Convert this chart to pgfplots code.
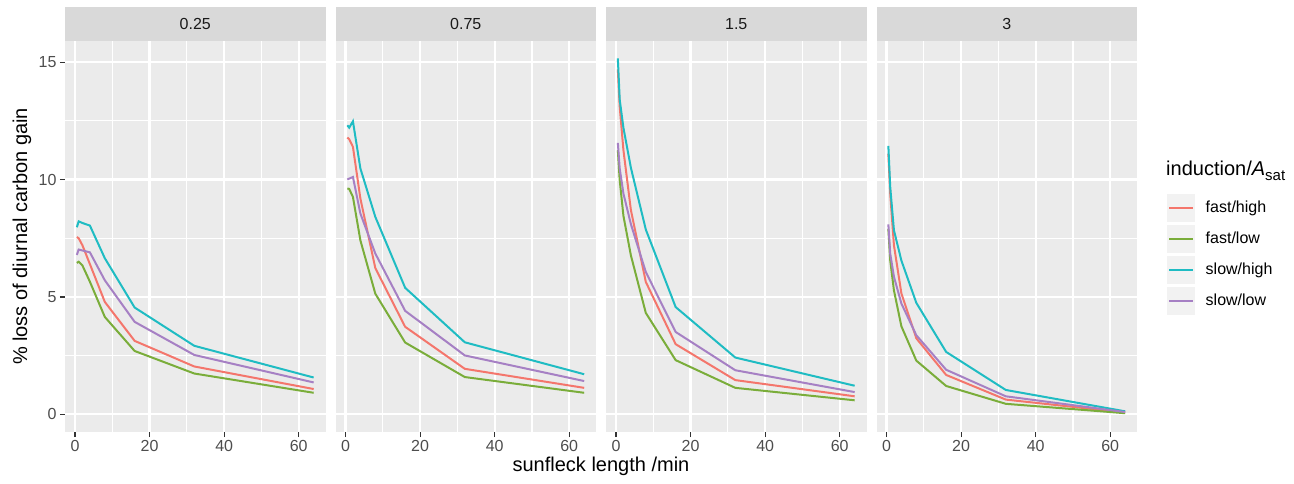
\documentclass[border=0pt]{standalone}
\usepackage{pgfplots}
\pgfplotsset{compat=1.18}
\usepackage{fontspec}
\setmainfont{Liberation Sans}
\definecolor{ggbg}{HTML}{EBEBEB}
\definecolor{stripc}{HTML}{D9D9D9}
\definecolor{keybg}{HTML}{F2F2F2}
\definecolor{tickc}{HTML}{333333}
\definecolor{labc}{HTML}{4D4D4D}
\definecolor{cred}{HTML}{F4766C}
\definecolor{cgreen}{HTML}{7AAD3A}
\definecolor{ccyan}{HTML}{1FBCC3}
\definecolor{cpurple}{HTML}{A680C4}

\pgfplotstableread{
x    fh     fl     sh     sl
0.5  7.55   6.45   7.97   6.79
1    7.50   6.50   8.22   7.02
2    7.20   6.34   8.15   6.98
4    6.40   5.65   8.04   6.90
8    4.79   4.15   6.65   5.71
16   3.13   2.70   4.55   3.94
32   2.04   1.74   2.92   2.53
64   1.08   0.92   1.57   1.36
}\tA
\pgfplotstableread{
x    fh     fl     sh     sl
0.5  11.79  9.62   12.31  10.00
1    11.72  9.60   12.21  10.04
2    11.39  9.26   12.48  10.11
4    9.19   7.41   10.47  8.55
8    6.23   5.14   8.41   6.85
16   3.73   3.06   5.39   4.41
32   1.94   1.59   3.07   2.51
64   1.13   0.92   1.71   1.42
}\tB
\pgfplotstableread{
x    fh     fl     sh     sl
0.5  14.69  11.25  15.16  11.56
1    13.10  9.97   13.40  10.47
2    11.25  8.45   12.20  9.40
4    8.70   6.77   10.50  8.10
8    5.64   4.32   7.87   6.06
16   2.99   2.31   4.57   3.51
32   1.46   1.13   2.42   1.88
64   0.77   0.60   1.22   0.95
}\tC
\pgfplotstableread{
x    fh     fl     sh     sl
0.5  11.10  7.90   11.43  8.09
1    9.40   6.56   9.69   6.85
2    7.20   5.28   7.84   5.86
4    5.15   3.75   6.55   4.72
8    3.24   2.29   4.75   3.37
16   1.68   1.21   2.66   1.90
32   0.63   0.45   1.04   0.77
64   0.08   0.05   0.13   0.10
}\tD

\pgfplotsset{
  ggpanel/.style={
    scale only axis, width=260.5pt, height=391pt, anchor=south west,
    xmin=-2.675, xmax=67.175, ymin=-0.75, ymax=15.9,
    axis background/.style={fill=ggbg},
    axis line style={draw=none},
    xtick={0,20,40,60}, minor xtick={10,30,50},
    ytick={0,5,10,15}, minor ytick={2.5,7.5,12.5},
    xtick pos=bottom, ytick pos=left,
    grid=both,
    major grid style={white, line width=2.2pt},
    minor grid style={white, line width=1.1pt},
    tick align=outside, major tick length=5pt, minor tick length=0pt,
    tick style={color=tickc, line width=1.1pt},
    ticklabel style={font=\fontsize{16}{18}\selectfont, text=labc},
    /pgf/number format/assume math mode=true,
    every axis plot/.append style={line width=2pt},
  },
  inner/.style={yticklabels={}, ytick style={draw=none}},
}

\newcommand{\panelplots}[1]{%
  \addplot[cred] table[x=x,y=fh] {#1};
  \addplot[cgreen] table[x=x,y=fl] {#1};
  \addplot[ccyan] table[x=x,y=sh] {#1};
  \addplot[cpurple] table[x=x,y=sl] {#1};
}

\begin{document}
\begin{tikzpicture}
\useasboundingbox (0,0) rectangle (1294pt,483pt);

\begin{axis}[ggpanel, name=ax1, at={(65pt,51pt)}]
\panelplots{\tA}
\end{axis}
\begin{axis}[ggpanel, inner, name=ax2, at={(335.5pt,51pt)}]
\panelplots{\tB}
\end{axis}
\begin{axis}[ggpanel, inner, name=ax3, at={(606pt,51pt)}]
\panelplots{\tC}
\end{axis}
\begin{axis}[ggpanel, inner, name=ax4, at={(876.5pt,51pt)},
  legend style={at={(1.1152,0.6138)}, anchor=north west, draw=none, fill=none,
    font=\fontsize{16}{18}\selectfont, row sep=0pt, inner sep=0pt,
    nodes={inner sep=0pt},
    /tikz/every odd column/.append style={column sep=11pt}},
  legend cell align=left,
  legend image code/.code={%
    \path[draw=none, fill=none] (0pt,-15.5pt) rectangle (27.5pt,15.5pt);
    \path[draw=none, fill=keybg] (0pt,-14pt) rectangle (27.5pt,14pt);
    \draw[#1] (2pt,0pt) -- (25.5pt,0pt);}]
\panelplots{\tD}
\legend{fast/high, fast/low, slow/high, slow/low}
\end{axis}

\foreach \a/\t in {ax1/0.25, ax2/0.75, ax3/1.5, ax4/3}{
  \fill[stripc] (\a.north west) rectangle ([yshift=34pt]\a.north east);
  \node[text={rgb,255:red,26;green,26;blue,26}, font=\fontsize{16}{18}\selectfont]
    at ([yshift=17pt]\a.north) {\t};
}

\node[font=\fontsize{20}{22}\selectfont] at (601pt,17pt) {sunfleck length /min};
\node[font=\fontsize{20}{22}\selectfont, rotate=90] at (22pt,246.5pt) {\% loss of diurnal carbon gain};
\node[anchor=base west, inner sep=0pt, font=\fontsize{20}{22}\selectfont] at (1166pt,308pt)
  {induction/\textit{A}\raisebox{-0.3em}{\fontsize{15}{15}\selectfont sat}};
\end{tikzpicture}
\end{document}
